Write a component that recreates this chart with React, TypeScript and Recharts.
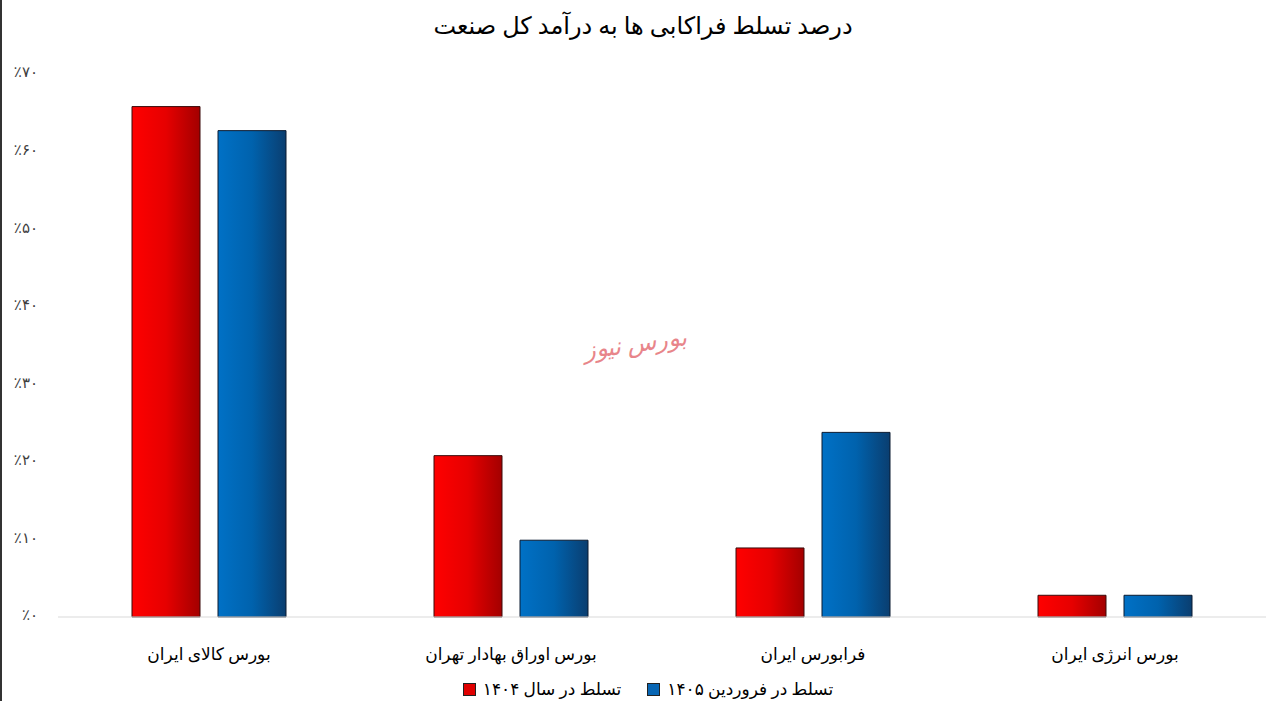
import React from "react";
import { BarChart, Bar, XAxis, YAxis } from "recharts";

const categories = [
  "بورس کالای ایران",
  "بورس اوراق بهادار تهران",
  "فرابورس ایران",
  "بورس انرژی ایران",
];
const share1404 = [65.8, 20.8, 8.9, 2.8];
const share1405 = [62.7, 9.9, 23.8, 2.8];
const seriesNames = ["تسلط در سال ۱۴۰۴", "تسلط در فروردین ۱۴۰۵"];
const yTicks = [0, 10, 20, 30, 40, 50, 60, 70];
const yTickLabels = ["٪۰", "٪۱۰", "٪۲۰", "٪۳۰", "٪۴۰", "٪۵۰", "٪۶۰", "٪۷۰"];
const title = "درصد تسلط فراکابی ها به درآمد کل صنعت";
const watermark = "بورس نیوز";

const data = categories.map((c, i) => ({
  name: c,
  a: share1404[i],
  b: share1405[i],
}));

const FONT = '"Times New Roman", "Liberation Serif", "DejaVu Sans", serif';

const YTick = (props: any) => {
  const { y, payload } = props;
  const idx = yTicks.indexOf(payload.value);
  return (
    <text
      x={38}
      y={y}
      textAnchor="end"
      dominantBaseline="middle"
      fontSize={15}
      fill="#404040"
      fontFamily={FONT}
    >
      {yTickLabels[idx]}
    </text>
  );
};

const XTick = (props: any) => {
  const { x, y, payload } = props;
  return (
    <text
      x={x}
      y={y + 31}
      textAnchor="middle"
      dominantBaseline="middle"
      fontSize={17}
      fill="#000"
      fontFamily={FONT}
      direction="rtl"
    >
      {payload.value}
    </text>
  );
};

export default function App() {
  return (
    <div
      style={{
        position: "absolute",
        left: 0,
        top: 0,
        width: 1268,
        height: 701,
        background: "#fff",
        overflow: "hidden",
      }}
    >
      <div
        style={{
          position: "absolute",
          left: 0,
          top: 0,
          width: 2,
          height: 701,
          background: "#333",
        }}
      />
      <div
        style={{
          position: "absolute",
          top: 12,
          left: 0,
          width: 1286,
          textAlign: "center",
          fontFamily: FONT,
          fontSize: 24,
          color: "#000",
          direction: "rtl",
        }}
      >
        {title}
      </div>
      <div
        style={{
          position: "absolute",
          top: 330,
          left: 570,
          width: 130,
          textAlign: "center",
          fontFamily: FONT,
          fontSize: 24,
          fontStyle: "italic",
          color: "#e8858a",
          direction: "rtl",
          whiteSpace: "nowrap",
          transform: "rotate(-8deg)",
        }}
      >
        {watermark}
      </div>
      <BarChart
        width={1268}
        height={701}
        data={data}
        margin={{ top: 74, right: 2, left: 0, bottom: 83 }}
        barSize={68}
        barGap={18}
      >
        <defs>
          <linearGradient id="gRed" x1="0" y1="0" x2="1" y2="0">
            <stop offset="0%" stopColor="#ff0000" />
            <stop offset="50%" stopColor="#e60000" />
            <stop offset="100%" stopColor="#a30000" />
          </linearGradient>
          <linearGradient id="gBlue" x1="0" y1="0" x2="1" y2="0">
            <stop offset="0%" stopColor="#0071c6" />
            <stop offset="50%" stopColor="#0062ad" />
            <stop offset="100%" stopColor="#0a3e70" />
          </linearGradient>
        </defs>
        <XAxis
          dataKey="name"
          axisLine={{ stroke: "#d9d9d9" }}
          tickLine={false}
          tick={<XTick />}
          interval={0}
          height={1}
        />
        <YAxis
          width={58}
          domain={[0, 70]}
          ticks={yTicks}
          axisLine={false}
          tickLine={false}
          tick={<YTick />}
          interval={0}
        />
        <Bar
          dataKey="a"
          name={seriesNames[0]}
          fill="url(#gRed)"
          stroke="#3a0a0a"
          strokeWidth={1}
          isAnimationActive={false}
        />
        <Bar
          dataKey="b"
          name={seriesNames[1]}
          fill="url(#gBlue)"
          stroke="#0a1a30"
          strokeWidth={1}
          isAnimationActive={false}
        />
      </BarChart>
      <div
        style={{
          position: "absolute",
          top: 679,
          left: 0,
          width: 1296,
          display: "flex",
          justifyContent: "center",
          alignItems: "center",
          gap: 26,
          fontFamily: FONT,
          fontSize: 17,
          color: "#000",
        }}
      >
        {[0, 1].map((i) => (
          <div key={i} style={{ display: "flex", alignItems: "center", gap: 7 }}>
            <span
              style={{
                display: "inline-block",
                width: 11,
                height: 11,
                background: i === 0 ? "#e00000" : "#0866b4",
                border: "1px solid #222",
              }}
            />
            <span style={{ direction: "rtl" }}>{seriesNames[i]}</span>
          </div>
        ))}
      </div>
    </div>
  );
}
